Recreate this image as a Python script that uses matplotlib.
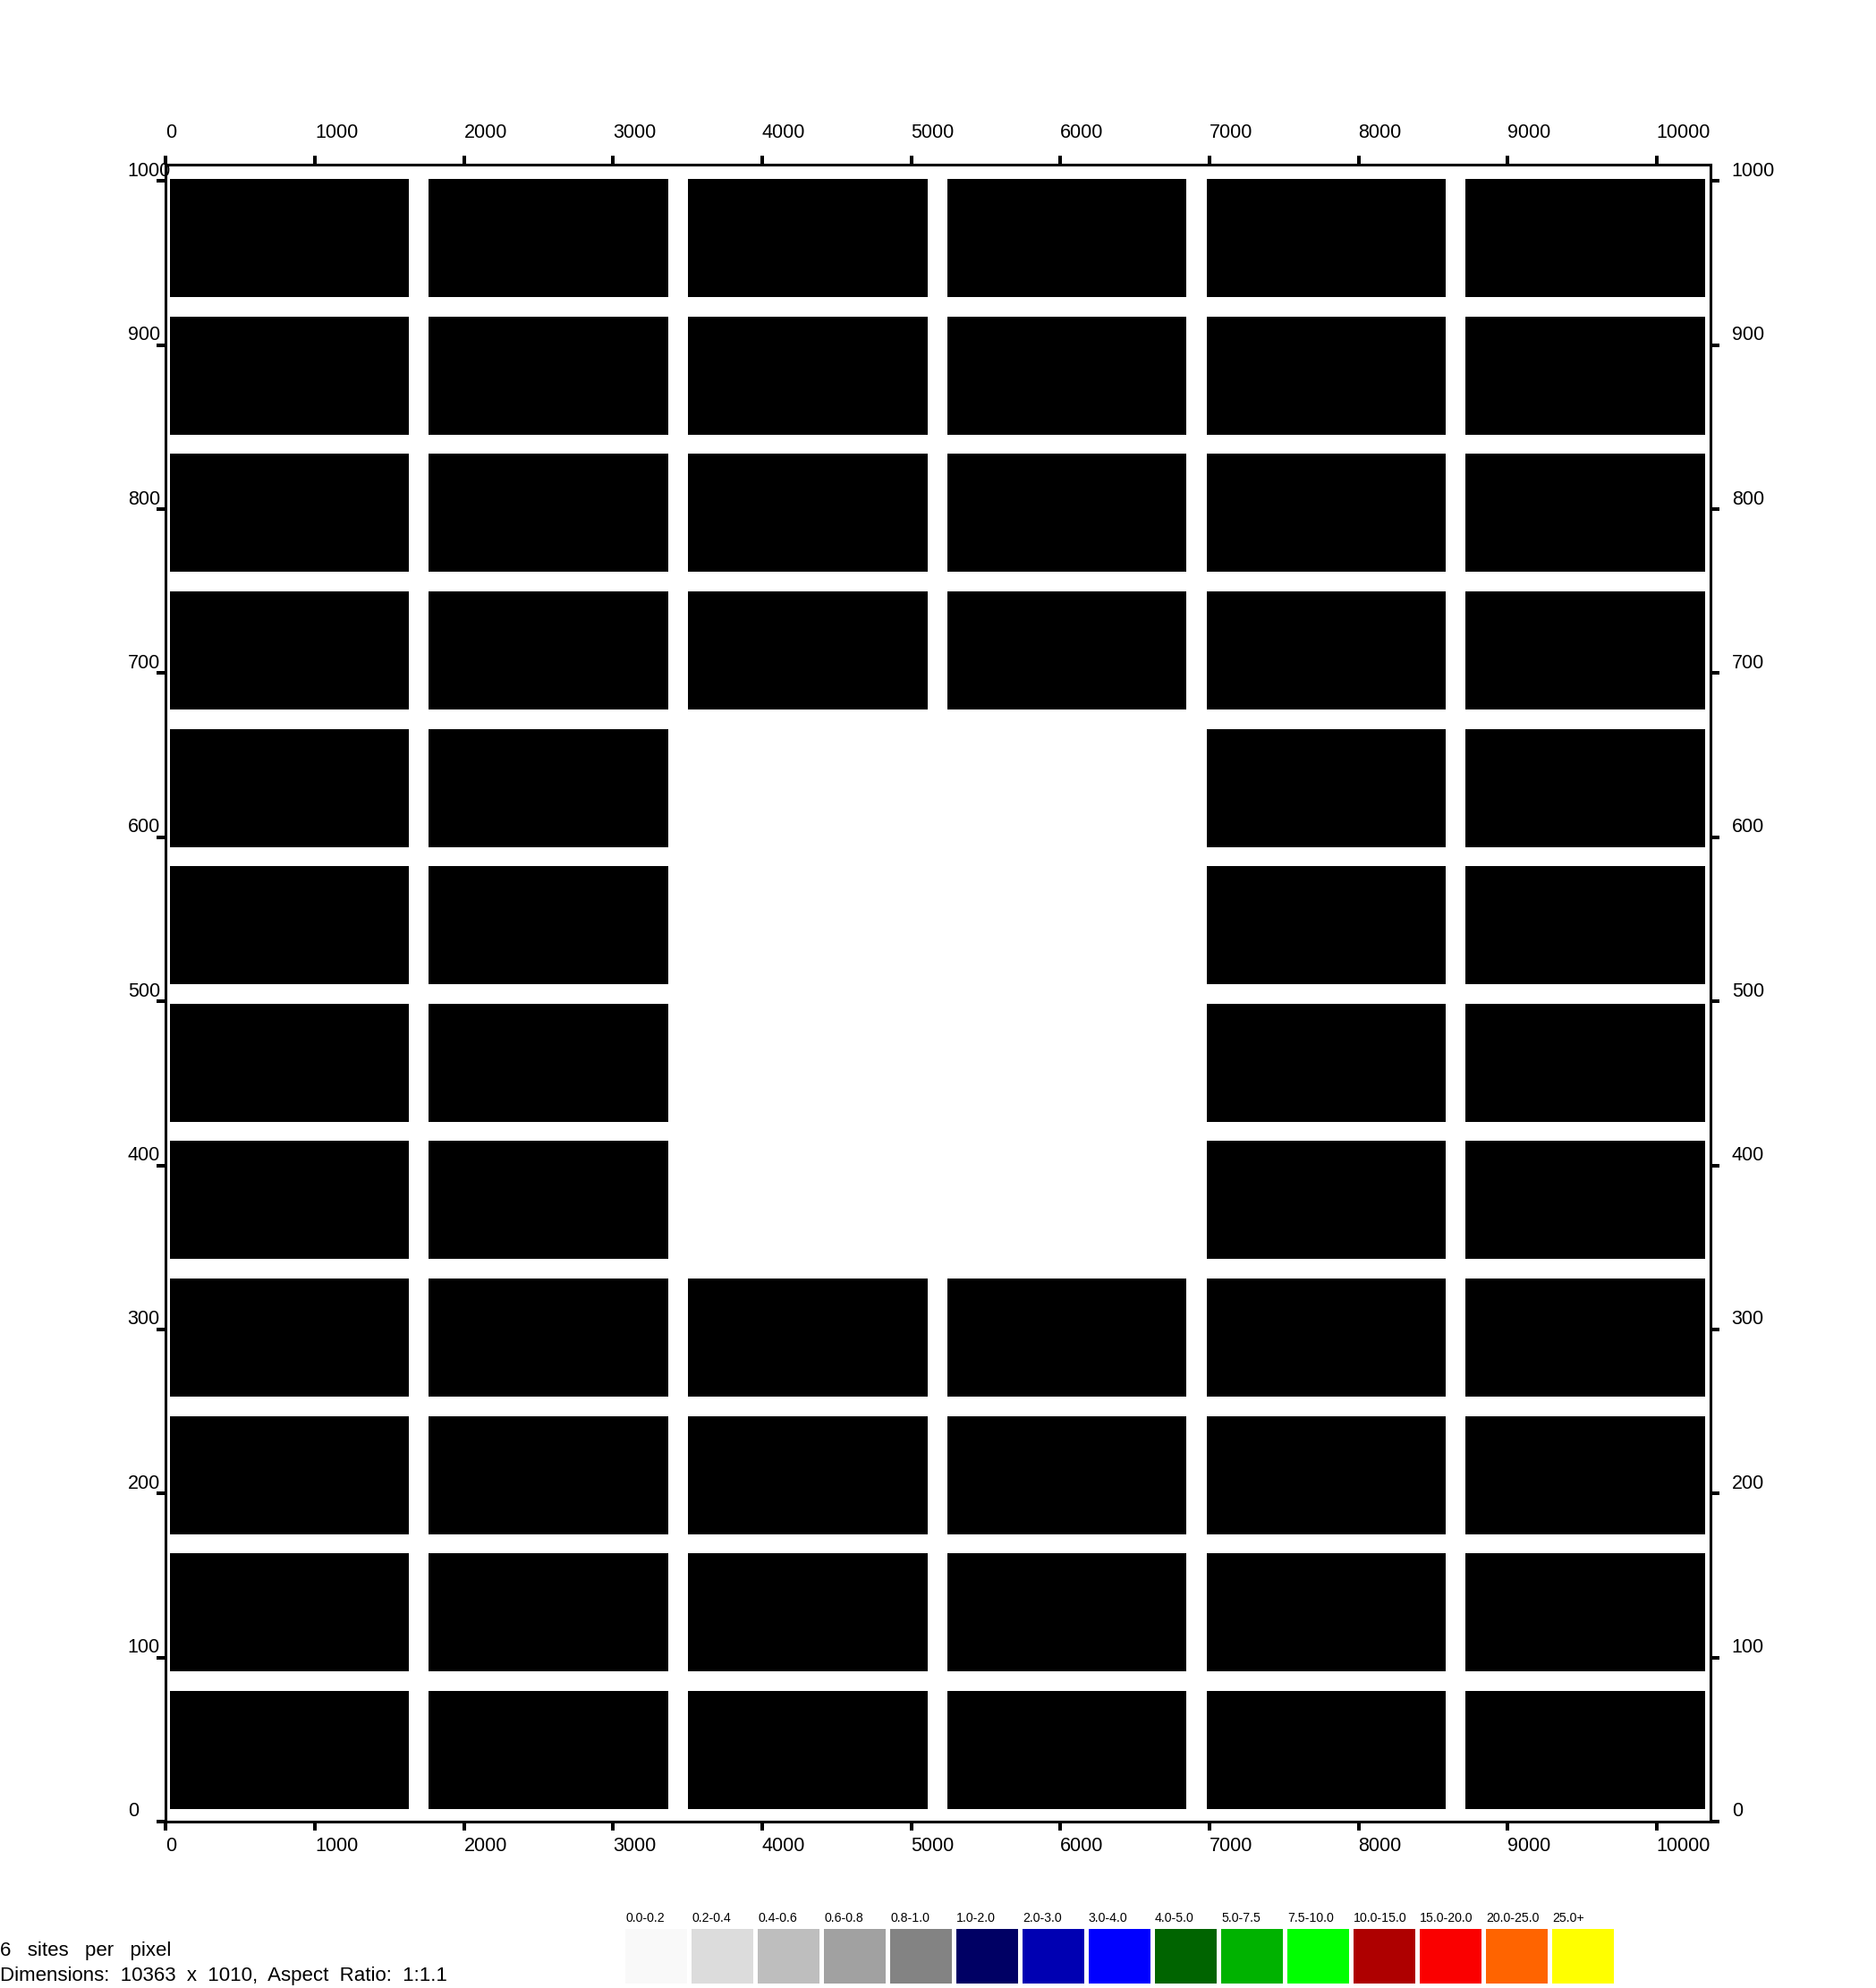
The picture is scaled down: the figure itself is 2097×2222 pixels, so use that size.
import matplotlib
matplotlib.use('Agg')
import matplotlib.pyplot as plt
from matplotlib import font_manager
from matplotlib.transforms import blended_transform_factory, offset_copy

plt.rcParams['font.family'] = ['Liberation Sans', 'DejaVu Sans']

# plate size in sites
x_max = 10363
y_max = 1010

# tile extents (x in columns, y in rows, bottom to top)
col_start = [28, 1762, 3502, 5242, 6982, 8716]
col_end = [1630, 3370, 5108, 6844, 8584, 10324]
row_start = [7.8, 91.6, 175.3, 259.1, 342.8, 426.6, 510.3, 594.1, 677.8, 761.6, 845.3, 929.1]
row_end = [79.8, 163.6, 247.3, 331.1, 414.8, 498.6, 582.3, 666.1, 749.8, 833.6, 917.3, 1001.1]

# 1 = tile drawn, rows bottom to top
present = [
    [1, 1, 1, 1, 1, 1],
    [1, 1, 1, 1, 1, 1],
    [1, 1, 1, 1, 1, 1],
    [1, 1, 1, 1, 1, 1],
    [1, 1, 0, 0, 1, 1],
    [1, 1, 0, 0, 1, 1],
    [1, 1, 0, 0, 1, 1],
    [1, 1, 0, 0, 1, 1],
    [1, 1, 1, 1, 1, 1],
    [1, 1, 1, 1, 1, 1],
    [1, 1, 1, 1, 1, 1],
    [1, 1, 1, 1, 1, 1],
]

x_ticks = [0, 1000, 2000, 3000, 4000, 5000, 6000, 7000, 8000, 9000, 10000]
y_ticks = [0, 100, 200, 300, 400, 500, 600, 700, 800, 900, 1000]

legend_labels = ['0.0-0.2', '0.2-0.4', '0.4-0.6', '0.6-0.8', '0.8-1.0',
                 '1.0-2.0', '2.0-3.0', '3.0-4.0', '4.0-5.0', '5.0-7.5',
                 '7.5-10.0', '10.0-15.0', '15.0-20.0', '20.0-25.0', '25.0+']
legend_colors = ['#f9f9f9', '#dcdcdc', '#bebebe', '#a1a1a1', '#838383',
                 '#000064', '#0000b2', '#0000ff', '#006400', '#00b200',
                 '#00ff00', '#ae0000', '#fa0000', '#ff6400', '#ffff00']

info_lines = ['6   sites   per   pixel',
              'Dimensions:  10363  x  1010,  Aspect  Ratio:  1:1.1']

W, H = 2097, 2222
fig = plt.figure(figsize=(W / 100, H / 100), dpi=100)
ax = fig.add_axes([185.3 / W, 1 - 2036 / H, (1912.3 - 185.3) / W, (2036 - 184) / H])

for k, row in enumerate(present):
    spans = [(col_start[c], col_end[c] - col_start[c]) for c in range(len(row)) if row[c]]
    ax.broken_barh(spans, (row_start[k], row_end[k] - row_start[k]),
                   facecolors='black', linewidth=0)

ax.set_xlim(0, x_max)
ax.set_ylim(0, y_max)
ax.set_xticks(x_ticks)
ax.set_yticks(y_ticks)
ax.tick_params(direction='out', length=7.2, width=2.9, color='black',
               top=True, right=True, bottom=True, left=True,
               labelbottom=False, labelleft=False, labeltop=False, labelright=False)
for sp in ax.spines.values():
    sp.set_linewidth(2.2)

tick_size = 15.5
# y labels sit a bit above their ticks, left aligned on both sides
y_tr = offset_copy(blended_transform_factory(fig.transFigure, ax.transData),
                   fig=fig, x=0, y=5.5, units='dots')
for v in y_ticks:
    fig.text(142.7 / W, v, str(v), transform=y_tr, ha='left', va='baseline', fontsize=tick_size)
    fig.text(1935.7 / W, v, str(v), transform=y_tr, ha='left', va='baseline', fontsize=tick_size)

x_tr = blended_transform_factory(ax.transData, fig.transFigure)
for v in x_ticks:
    fig.text(v, 1 - 154.0 / H, str(v), transform=x_tr, ha='left', va='baseline', fontsize=tick_size)
    fig.text(v, 1 - 2069.0 / H, str(v), transform=x_tr, ha='left', va='baseline', fontsize=tick_size)

fig.text(0.5 / W, 1 - 2186 / H, info_lines[0], ha='left', va='baseline', fontsize=16)
fig.text(0.5 / W, 1 - 2214 / H, info_lines[1], ha='left', va='baseline', fontsize=16)

# colour key
names = {f.name for f in font_manager.fontManager.ttflist}
if 'Liberation Sans Narrow' in names:
    key_font, key_size = 'Liberation Sans Narrow', 12
else:
    key_font, key_size = 'Liberation Sans', 10.2

lax = fig.add_axes([699 / W, 1 - 2217 / H, (1804 - 699) / W, (2217 - 2156) / H])
swatch = 69 / 74
lax.bar(range(len(legend_colors)), [1] * len(legend_colors), width=swatch,
        align='edge', color=legend_colors, linewidth=0)
lax.set_xlim(0, len(legend_colors) - 1 + swatch)
lax.set_ylim(0, 1)
lax.axis('off')
key_tr = blended_transform_factory(lax.transData, lax.transAxes)
for i, lab in enumerate(legend_labels):
    lax.text(i, 1.128, lab, transform=key_tr, ha='left', va='baseline',
             fontsize=key_size, family=key_font)

fig.savefig('out.png', dpi=100, facecolor='white')
